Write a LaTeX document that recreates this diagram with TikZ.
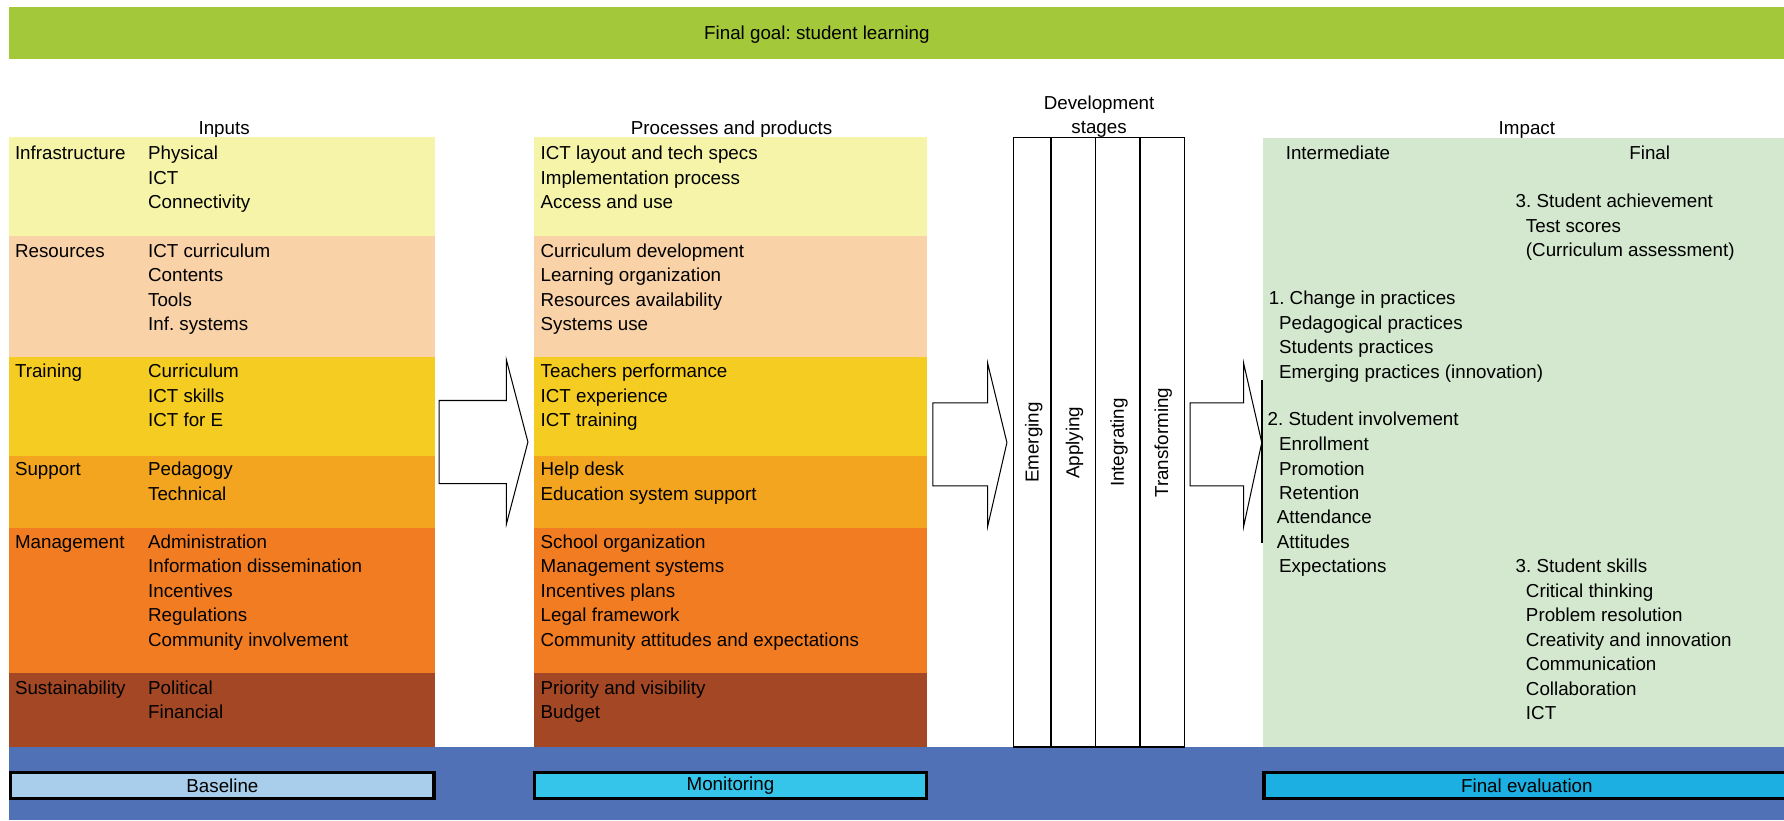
\documentclass[tikz,border=0pt]{standalone}
\usepackage{fontspec}
\setmainfont{Liberation Sans}
\frenchspacing
\definecolor{goalgreen}{HTML}{A3C93A}
\definecolor{bInfra}{HTML}{F6F4A9}
\definecolor{bRes}{HTML}{F9D2A7}
\definecolor{bTrain}{HTML}{F5CD22}
\definecolor{bSupp}{HTML}{F3A51F}
\definecolor{bMan}{HTML}{F27C22}
\definecolor{bSust}{HTML}{A34725}
\definecolor{evalblue}{HTML}{5071B6}
\definecolor{cBase}{HTML}{A8CEEB}
\definecolor{cMon}{HTML}{36C5EA}
\definecolor{cFin}{HTML}{1CAFE1}
\definecolor{impgreen}{HTML}{D3E8CE}
\newcommand\rowlist[4]{\foreach \t [count=\i from 0] in {#4} {\node[txt] (#1\i) at (#2,{#3+21.5*\i}) {\t};}}
\begin{document}
\begin{tikzpicture}[x=1pt,y=-1pt,
  txt/.style={anchor=base west, inner sep=0pt, font=\fontsize{16.5}{20}\selectfont},
  ctxt/.style={anchor=base, inner sep=0pt, font=\fontsize{16.5}{20}\selectfont},
  vtxt/.style={rotate=90, anchor=center, inner sep=0pt, font=\fontsize{16.5}{20}\selectfont},
  evalbox/.style={draw=black, line width=2.8pt},
  blockarrow/.style={draw=black, line width=0.9pt, fill=white, line join=miter},
  stagebox/.style={draw=black, line width=1pt}]
\clip (0,0) rectangle (1568,721);
\fill[white] (0,0) rectangle (1568,721);
% goal bar
\fill[goalgreen] (8,6) rectangle (1570,52);
\node[ctxt] (goal) at (718,35) {Final goal: student learning};
% headers
\node[ctxt] (hin) at (197,118) {Inputs};
\node[ctxt] (hpr) at (643,118) {Processes and products};
\node[ctxt] (hdev1) at (966,96.5) {Development};
\node[ctxt] (hdev2) at (966,117.5) {stages};
\node[ctxt] (himp) at (1342,118) {Impact};
% bands
\foreach \xa/\xb in {8/382.5, 469/815} {
  \fill[bInfra] (\xa,120) rectangle (\xb,207);
  \fill[bRes]   (\xa,207) rectangle (\xb,314);
  \fill[bTrain] (\xa,314) rectangle (\xb,401);
  \fill[bSupp]  (\xa,401) rectangle (\xb,464);
  \fill[bMan]   (\xa,464) rectangle (\xb,591.5);
  \fill[bSust]  (\xa,591.5) rectangle (\xb,657);
}
% impact panel
\fill[impgreen] (1110,121) rectangle (1570,657);
% bottom evaluation band
\fill[evalblue] (8,656.5) rectangle (1570,721);
\node[evalbox, fill=cBase, minimum width=372pt, minimum height=23pt, inner sep=0pt, font=\fontsize{16.5}{20}\selectfont] (baseline) at (195.5,690.5) {Baseline};
\node[evalbox, fill=cMon, minimum width=344pt, minimum height=23pt, inner sep=0pt, font=\fontsize{16.5}{20}\selectfont] (monitor) at (642,690.5) {Monitoring};
\node[evalbox, fill=cFin, minimum width=462pt, minimum height=23pt, inner sep=0pt, font=\fontsize{16.5}{20}\selectfont] (finaleval) at (1342,690.5) {Final evaluation};
% input labels
\node[txt] (lInfra) at (13,140.5) {Infrastructure};
\node[txt] (lRes) at (13,226) {Resources};
\node[txt] (lTrain) at (13,332) {Training};
\node[txt] (lSupp) at (13,418) {Support};
\node[txt] (lMan) at (13,482) {Management};
\node[txt] (lSust) at (13,610) {Sustainability};
% input items
\rowlist{iInfra}{130}{140.5}{Physical,ICT,Connectivity}
\rowlist{iRes}{130}{226}{ICT curriculum,Contents,Tools,Inf. systems}
\rowlist{iTrain}{130}{332}{Curriculum,ICT skills,ICT for E}
\rowlist{iSupp}{130}{418}{Pedagogy,Technical}
\rowlist{iMan}{130}{482}{Administration,Information dissemination,Incentives,Regulations,Community involvement}
\rowlist{iSust}{130}{610}{Political,Financial}
% process items
\rowlist{pInfra}{475}{140.5}{ICT layout and tech specs,Implementation process,Access and use}
\rowlist{pRes}{475}{226}{Curriculum development,Learning organization,Resources availability,Systems use}
\rowlist{pTrain}{475}{332}{Teachers performance,ICT experience,ICT training}
\rowlist{pSupp}{475}{418}{Help desk,Education system support}
\rowlist{pMan}{475}{482}{School organization,Management systems,Incentives plans,Legal framework,Community attitudes and expectations}
\rowlist{pSust}{475}{610}{Priority and visibility,Budget}
% development stages
\draw[stagebox] (891,121) rectangle (1041,656.5);
\draw[line width=1.6pt] (924,121) -- (924,656.5);
\draw[line width=1.1pt] (963,121) -- (963,656.5);
\draw[line width=1.6pt] (1002,121) -- (1002,656.5);
\node[vtxt] (sEm) at (908.5,389) {Emerging};
\node[vtxt] (sAp) at (944.5,389) {Applying};
\node[vtxt] (sIn) at (983.5,389) {Integrating};
\node[vtxt] (sTr) at (1022.5,389) {Transforming};
% block arrows
\draw[blockarrow] (386,352) -- (445,352) -- (445,316) -- (464,388.5) -- (445,461) -- (445,425) -- (386,425) -- cycle;
\draw[blockarrow] (820,354) -- (868,354) -- (868,319) -- (885,389) -- (868,463) -- (868,427) -- (820,427) -- cycle;
\draw[blockarrow] (1046,354) -- (1093,354) -- (1093,319) -- (1109,389) -- (1093,463) -- (1093,427) -- (1046,427) -- cycle;
\draw[line width=2pt] (1109.5,334) -- (1109.5,477);
% impact
\node[ctxt] (hint) at (1176,140) {Intermediate};
\node[ctxt] (hfin) at (1450,140) {Final};
\node[txt] (ach) at (1332,182.5) {3. Student achievement};
\rowlist{achI}{1341}{204}{Test scores,{(Curriculum assessment)}}
\node[txt] (chg) at (1115,268) {1. Change in practices};
\rowlist{chgI}{1124}{289.5}{Pedagogical practices,Students practices,{Emerging practices (innovation)}}
\node[txt] (inv) at (1114,374) {2. Student involvement};
\rowlist{invA}{1124}{396}{Enrollment,Promotion,Retention}
\rowlist{invB}{1122}{460.5}{Attendance,Attitudes}
\node[txt] (invC) at (1124,503.5) {Expectations};
\node[txt] (skl) at (1332,503) {3. Student skills};
\rowlist{sklI}{1341}{525}{Critical thinking,Problem resolution,Creativity and innovation,Communication,Collaboration,ICT}
\end{tikzpicture}
\end{document}
